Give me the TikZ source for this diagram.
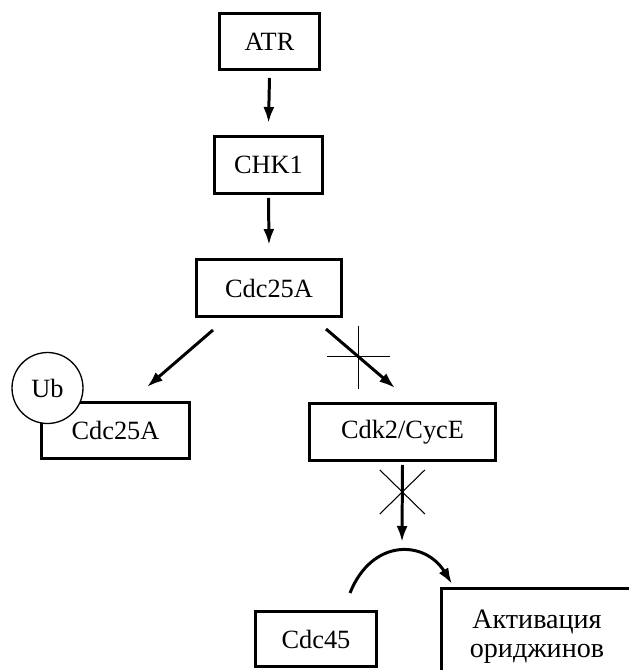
\documentclass[tikz,border=0pt]{standalone}
\usepackage{fontspec}
\setmainfont{Liberation Serif}
\usetikzlibrary{arrows.meta,calc}

\begin{document}
\begin{tikzpicture}[x=0.02cm,y=-0.02cm]
\tikzstyle{box}=[draw, line width=1.7pt, inner sep=0pt, font=\fontsize{15}{18}\selectfont]
\tikzstyle{arr}=[line width=1.7pt, -{Latex[length=0.32cm,width=0.22cm]}]
\tikzstyle{blk}=[line width=0.6pt]

\clip (0,0) rectangle (629,670);

\node[box, minimum width=2.0cm, minimum height=1.12cm] (atr) at (269.5,41.5) {ATR};
\node[box, minimum width=2.16cm, minimum height=1.14cm] (chk) at (268.5,165) {CHK1};
\node[box, minimum width=2.9cm, minimum height=1.14cm] (cdcA) at (269,288) {Cdc25A};

\node[box, minimum width=2.96cm, minimum height=1.12cm] (cdcB) at (115.5,430.5) {Cdc25A};
\node[box, circle, line width=0.75pt, fill=white, minimum size=1.42cm] (ub) at (47.5,388) {Ub};
\node[box, minimum width=3.72cm, minimum height=1.14cm] (cdk) at (402.5,432) {Cdk2/CycE};

\node[box, minimum width=2.42cm, minimum height=1.1cm] (cdc45) at (316,639) {Cdc45};
\node[box, minimum width=3.82cm, minimum height=1.94cm, align=center,
      font=\fontsize{16}{16.5}\selectfont] (orig) at (537,637) {Активация\\ориджинов};

% cascade
\draw[arr] ($(atr.south)+(0,7)$) -- ($(chk.north)+(0,-12)$);
\draw[arr] ($(chk.south)+(0,3)$) -- ($(cdcA.north)+(0,-13)$);

\draw[arr] ($(cdcA.center)+(-56,42)$) -- ($(cdcB.center)+(31.5,-43.5)$);
\draw[arr] ($(cdcA.center)+(57,41)$) -- coordinate[pos=0.47] (blk1) ($(cdk.center)+(-7.5,-44)$);
\draw[blk] ($(blk1)+(-31,0)$) -- ($(blk1)+(32,0)$);
\draw[blk] ($(blk1)+(0,-31)$) -- ($(blk1)+(0,32)$);

% activation of origins
\coordinate (peak) at (402,552);
\draw[arr] ($(cdk.south)+(0,3)$) -- coordinate[pos=0.35] (blk2) ($(peak)+(0,-10)$);
\draw[blk] ($(blk2)+(-22.5,-22)$) -- ($(blk2)+(22.5,22)$);
\draw[blk] ($(blk2)+(22.5,-22)$) -- ($(blk2)+(-22.5,22)$);

\draw[arr] ($(cdc45.center)+(34,-46)$) .. controls (372,538) and (425,540) .. ($(orig.north west)+(12,-3)$);
\end{tikzpicture}
\end{document}
